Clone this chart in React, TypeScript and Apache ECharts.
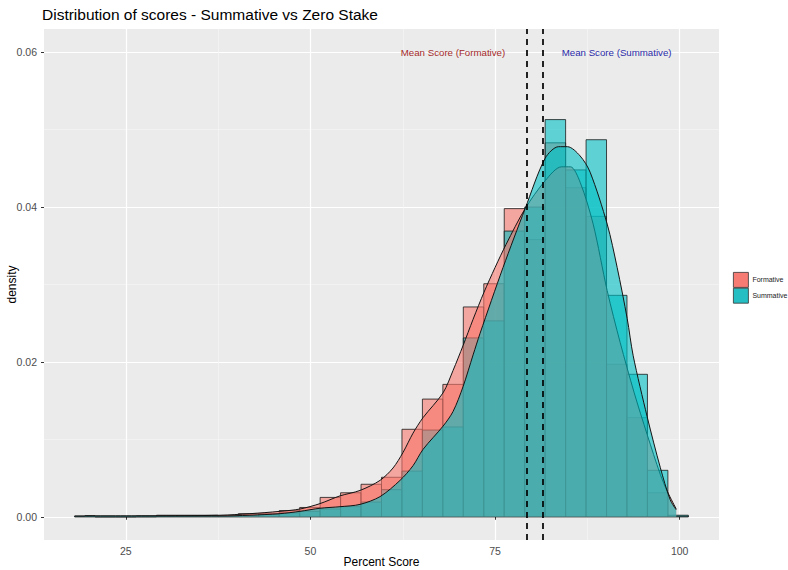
import React, { useEffect, useRef } from "react";
import * as echarts from "echarts";

// ---- data ----
const groups = ["Formative", "Summative"];
const binStart = 18.07;
const binWidth = 2.77;
const formativeBins = [
  0.0001, 0, 0, 0.0001, 0.0002, 0.0002, 0.0002, 0.0001, 0.0004, 0.0004,
  0.0008, 0.0012, 0.0025, 0.0031, 0.0042, 0.0051, 0.0113, 0.0152, 0.0171, 0.0271,
  0.0301, 0.0398, 0.0358, 0.0483, 0.0425, 0.0388, 0.0197, 0.0128, 0.0031, 0.0001,
];
const summativeBins = [
  0.0001, 0, 0, 0, 0.0001, 0.0001, 0.0001, 0.0001, 0.0002, 0.0003,
  0.0005, 0.0007, 0.001, 0.0013, 0.0019, 0.0035, 0.0059, 0.0112, 0.0116, 0.0231,
  0.0253, 0.0369, 0.04, 0.0513, 0.0448, 0.0487, 0.0286, 0.0184, 0.006, 0.0002,
];
const formativeDensity: [number, number][] = [
  [19.45, 0.0001], [28.25, 0.0001], [37.74, 0.0002], [41.8, 0.0004], [45.87, 0.0007],
  [48.58, 0.001], [51.29, 0.0017], [54.0, 0.0027], [56.71, 0.0034], [59.42, 0.0047],
  [61.18, 0.0063], [62.53, 0.0083], [63.89, 0.0108], [65.24, 0.0128], [67.95, 0.016],
  [69.31, 0.0189], [70.66, 0.0221], [72.02, 0.0255], [73.5, 0.029], [75.0, 0.0322],
  [76.5, 0.0352], [79.07, 0.0398], [81.78, 0.0434], [84.0, 0.0452], [85.2, 0.0452],
  [86.52, 0.0432], [88.28, 0.0378], [90.18, 0.0292], [91.94, 0.0225], [93.84, 0.016],
  [95.6, 0.0106], [97.36, 0.0055], [98.31, 0.0033], [99.53, 0.001],
];
const summativeDensity: [number, number][] = [
  [19.45, 0.0001], [28.25, 0.0001], [37.74, 0.0001], [41.8, 0.0002], [45.87, 0.0004],
  [48.58, 0.0007], [51.29, 0.0011], [54.0, 0.0013], [56.71, 0.0016], [59.42, 0.0026],
  [62.13, 0.0047], [63.89, 0.0066], [65.24, 0.0087], [67.95, 0.0117], [69.31, 0.0136],
  [70.66, 0.0168], [72.02, 0.0209], [72.97, 0.0237], [76.08, 0.0322], [79.07, 0.0398],
  [81.78, 0.0463], [83.6, 0.0478], [84.8, 0.0478], [86.52, 0.0466], [87.87, 0.0445],
  [90.18, 0.0378], [91.53, 0.0322], [92.89, 0.0256], [93.7, 0.0208], [95.6, 0.0129],
  [97.36, 0.0064], [98.71, 0.0022], [99.53, 0.0009],
];
const meanScores = [79.3, 81.46];
const annotationLabels = ["Mean Score (Formative)", "Mean Score (Summative)"];
const annotationX = [69.3, 91.46];
const annotationY = 0.06;
const xTicks = [25, 50, 75, 100];
const xMinorTicks = [37.5, 62.5, 87.5];
const yTicks = [0, 0.02, 0.04, 0.06];
const yMinorTicks = [0.01, 0.03, 0.05];
const xRange = [13.92, 105.32];
const yRange = [-0.003, 0.063];

const FONT = "'Liberation Sans', Arial, Helvetica, sans-serif";
const histFill = ["rgba(248,118,109,0.6)", "rgba(0,191,196,0.6)"];
const densFill = ["rgba(248,118,109,0.6)", "rgba(0,191,196,0.6)"];
const legendFill = ["#F67B73", "#25BEC2"];
const annotationColors = ["#A52A2A", "#2A2AA8"];

function histSeries(name: string, bins: number[], fill: string, z: number) {
  return {
    type: "custom",
    name,
    z,
    xAxisIndex: 0,
    yAxisIndex: 0,
    silent: true,
    encode: { x: [0, 1], y: 2 },
    data: bins.map((h, i) => [binStart + i * binWidth, binStart + (i + 1) * binWidth, h]),
    renderItem: (_params: any, api: any) => {
      const a = api.coord([api.value(0), api.value(2)]);
      const b = api.coord([api.value(1), 0]);
      return {
        type: "rect",
        shape: { x: a[0], y: a[1], width: b[0] - a[0], height: b[1] - a[1] },
        style: { fill, stroke: "#1a1a1a", lineWidth: 0.8 },
      };
    },
  };
}

function densitySeries(name: string, data: [number, number][], fill: string, z: number) {
  return {
    type: "line",
    name,
    z,
    xAxisIndex: 0,
    yAxisIndex: 0,
    silent: true,
    smooth: 0.3,
    symbol: "none",
    data,
    lineStyle: { color: "#141414", width: 1 },
    areaStyle: { color: fill, opacity: 1 },
  };
}

export default function App() {
  const ref = useRef<HTMLDivElement>(null);
  useEffect(() => {
    if (!ref.current) return;
    const chart = echarts.init(ref.current, undefined, { renderer: "svg" });
    const baseX = {
      type: "value",
      min: xRange[0],
      max: xRange[1],
      axisLine: { show: false },
    };
    const baseY = {
      type: "value",
      min: yRange[0],
      max: yRange[1],
      axisLine: { show: false },
    };
    chart.setOption({
      animation: false,
      backgroundColor: "#ffffff",
      textStyle: { fontFamily: FONT },
      title: {
        text: "Distribution of scores - Summative vs Zero Stake",
        left: 42,
        top: 6,
        padding: 0,
        textStyle: { fontFamily: FONT, fontSize: 15.5, fontWeight: "normal", color: "#000" },
      },
      legend: {
        orient: "vertical",
        left: 733,
        top: 272,
        padding: 0,
        itemGap: 0,
        itemWidth: 15,
        itemHeight: 15,
        selectedMode: false,
        textStyle: { fontFamily: FONT, fontSize: 7, color: "#1a1a1a", padding: [0, 0, 0, -1] },
        data: groups.map((g, i) => ({
          name: g,
          icon: "rect",
          itemStyle: { color: legendFill[i], borderColor: "#333", borderWidth: 0.8 },
        })),
      },
      grid: {
        left: 44,
        right: 69,
        top: 29,
        bottom: 30,
        show: true,
        backgroundColor: "#EBEBEB",
        borderWidth: 0,
        containLabel: false,
        outerBoundsMode: "none",
      },
      xAxis: [
        {
          ...baseX,
          position: "bottom",
          name: "Percent Score",
          nameLocation: "middle",
          nameGap: 16,
          nameMoveOverlap: false,
          nameTextStyle: { fontFamily: FONT, fontSize: 12, color: "#000" },
          axisTick: { show: true, length: 3, customValues: xTicks, lineStyle: { color: "#333", width: 1 } },
          axisLabel: {
            show: true,
            customValues: xTicks,
            margin: 5,
            fontFamily: FONT,
            fontSize: 10.5,
            color: "#4d4d4d",
          },
          splitLine: { show: true, lineStyle: { color: "#ffffff", width: 1.2 } },
        },
        {
          ...baseX,
          position: "top",
          axisTick: { show: false, customValues: xMinorTicks },
          axisLabel: { show: false, customValues: xMinorTicks },
          splitLine: { show: true, lineStyle: { color: "#f7f7f7", width: 0.6 } },
        },
      ],
      yAxis: [
        {
          ...baseY,
          position: "left",
          name: "density",
          nameLocation: "middle",
          nameGap: 26,
          nameMoveOverlap: false,
          nameRotate: 90,
          nameTextStyle: { fontFamily: FONT, fontSize: 12, color: "#000" },
          axisTick: { show: true, length: 3, customValues: yTicks, lineStyle: { color: "#333", width: 1 } },
          axisLabel: {
            show: true,
            customValues: yTicks,
            margin: 7,
            fontFamily: FONT,
            fontSize: 10.5,
            color: "#4d4d4d",
            formatter: (v: number) => v.toFixed(2),
          },
          splitLine: { show: true, lineStyle: { color: "#ffffff", width: 1.2 } },
        },
        {
          ...baseY,
          position: "right",
          axisTick: { show: false, customValues: yMinorTicks },
          axisLabel: { show: false, customValues: yMinorTicks },
          splitLine: { show: true, lineStyle: { color: "#f7f7f7", width: 0.6 } },
        },
      ],
      series: [
        histSeries(groups[0], formativeBins, histFill[0], 1),
        histSeries(groups[1], summativeBins, histFill[1], 2),
        densitySeries(groups[0], formativeDensity, densFill[0], 3),
        densitySeries(groups[1], summativeDensity, densFill[1], 4),
        {
          type: "scatter",
          name: "annotations",
          z: 10,
          silent: true,
          symbolSize: 0,
          xAxisIndex: 0,
          yAxisIndex: 0,
          itemStyle: { opacity: 1 },
          data: annotationLabels.map((t, i) => ({
            name: t,
            value: [annotationX[i], annotationY],
            label: { color: annotationColors[i], opacity: 1 },
          })),
          label: {
            show: true,
            position: "inside",
            formatter: "{b}",
            fontFamily: FONT,
            fontSize: 9.7,
            opacity: 1,
          },
          markLine: {
            z: 12,
            silent: true,
            symbol: ["none", "none"],
            label: { show: false },
            lineStyle: { color: "#000", type: [6, 5], width: 1.7, opacity: 1 },
            emphasis: { disabled: true },
            data: meanScores.map((m) => ({ xAxis: m })),
          },
        },
      ],
    });
    return () => chart.dispose();
  }, []);
  return (
    <div
      ref={ref}
      style={{ position: "fixed", left: 0, top: 0, width: 788, height: 570 }}
    />
  );
}
